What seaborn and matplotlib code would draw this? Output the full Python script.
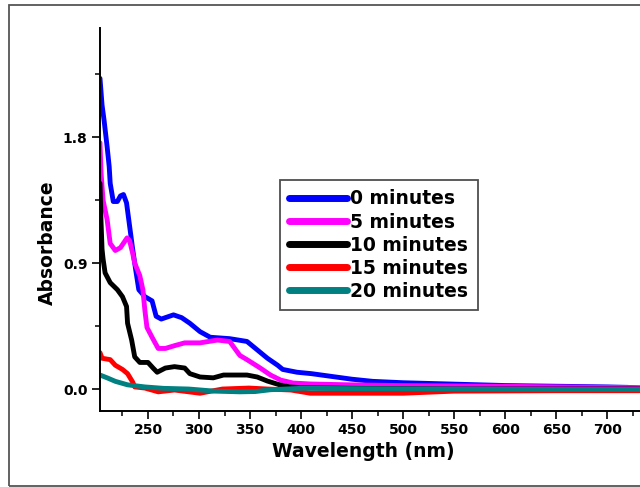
import numpy as np
import pandas as pd
import matplotlib
matplotlib.use("Agg")
import matplotlib.pyplot as plt
from matplotlib.patches import Rectangle
from matplotlib.ticker import MultipleLocator
import seaborn as sns

# ---- data ----
wl_0 = [203, 205, 207, 210, 212, 213, 216, 220, 223, 226, 229, 231, 235, 238, 241, 247, 254, 258, 263, 275,
        283, 291, 301, 311, 330, 347, 357, 367, 377, 382, 396, 410, 430, 450, 470, 500, 550, 600, 650, 700, 720, 733]
abs_0 = [2.22, 2.03, 1.92, 1.73, 1.59, 1.47, 1.34, 1.34, 1.38, 1.39, 1.33, 1.22, 1.00, 0.85, 0.71, 0.66, 0.63, 0.52, 0.50, 0.53,
         0.51, 0.47, 0.41, 0.37, 0.36, 0.34, 0.28, 0.22, 0.17, 0.14, 0.12, 0.11, 0.09, 0.07, 0.055, 0.045, 0.035, 0.025, 0.02, 0.015, 0.012, 0.005]

wl_5 = [203, 204, 206, 210, 213, 218, 223, 229.5, 232, 235, 237, 242, 245, 247, 249, 254, 257, 260, 267, 276,
        286, 301, 318, 330, 335, 340, 347, 360, 370, 380, 392, 409, 448, 497, 595, 693, 733]
abs_5 = [1.76, 1.55, 1.35, 1.21, 1.04, 0.99, 1.01, 1.08, 1.06, 0.97, 0.90, 0.81, 0.71, 0.56, 0.44, 0.37, 0.33, 0.29, 0.29, 0.31,
         0.33, 0.33, 0.35, 0.34, 0.29, 0.24, 0.21, 0.15, 0.10, 0.064, 0.043, 0.036, 0.03, 0.025, 0.02, 0.012, 0.01]

wl_10 = [203, 204, 205, 206, 208, 213, 220, 225, 229, 230, 234, 237, 242, 250, 255, 259, 267, 276, 286, 291,
         301, 314, 324, 347, 357, 367, 379, 389, 400, 450, 550, 650, 733]
abs_10 = [1.47, 1.20, 1.00, 0.93, 0.83, 0.76, 0.71, 0.66, 0.59, 0.47, 0.35, 0.23, 0.19, 0.19, 0.15, 0.12, 0.15, 0.16, 0.15, 0.11,
          0.086, 0.08, 0.10, 0.10, 0.086, 0.057, 0.03, 0.015, 0.01, 0.005, 0.0, 0.0, 0.0]

wl_15 = [203, 205, 213, 218, 225, 230, 235, 237, 247, 260, 276, 290, 301, 323, 349, 367, 390, 409, 450, 500, 550, 650, 733]
abs_15 = [0.26, 0.22, 0.21, 0.17, 0.14, 0.11, 0.05, 0.015, 0.007, -0.02, -0.007, -0.02, -0.03, 0.0, 0.007, 0.0, -0.007, -0.03, -0.03, -0.03, -0.015, -0.012, -0.012]

wl_20 = [203, 210, 218, 230, 247, 265, 290, 315, 340, 355, 370, 400, 450, 550, 650, 733]
abs_20 = [0.10, 0.08, 0.055, 0.03, 0.015, 0.005, 0.0, -0.015, -0.02, -0.018, -0.005, 0.005, 0.003, 0.0, -0.003, -0.003]

labels = ["0 minutes", "5 minutes", "10 minutes", "15 minutes", "20 minutes"]
colors = ["#0000FF", "#FF00FF", "#000000", "#FF0000", "#008080"]
x_ticks = [250, 300, 350, 400, 450, 500, 550, 600, 650, 700]
y_ticks = [0.0, 0.9, 1.8]
y_ticklabels = ["0.0", "0.9", "1.8"]

frames = []
for lab, w, a in zip(labels, [wl_0, wl_5, wl_10, wl_15, wl_20], [abs_0, abs_5, abs_10, abs_15, abs_20]):
    frames.append(pd.DataFrame({"Wavelength": w, "Absorbance": a, "Time": lab}))
df = pd.concat(frames, ignore_index=True)

sns.set_style("white")
plt.rcParams["font.family"] = ["DejaVu Sans"]
plt.rcParams["font.weight"] = "bold"
plt.rcParams["text.color"] = "black"
plt.rcParams["axes.labelcolor"] = "black"
plt.rcParams["xtick.color"] = "black"
plt.rcParams["ytick.color"] = "black"

fig = plt.figure(figsize=(6.4, 4.87), dpi=100)
ax = fig.add_axes([100 / 640, 1 - 411 / 487, 1 - 100 / 640, (411 - 28) / 487])

sns.lineplot(data=df, x="Wavelength", y="Absorbance", hue="Time", hue_order=labels,
             palette=dict(zip(labels, colors)), estimator=None, sort=False,
             linewidth=3.5, ax=ax, legend=True)

ax.set_xlim(203, 732)
ax.set_ylim(-0.157, 2.58)

ax.xaxis.set_minor_locator(MultipleLocator(25))
ax.set_xticks(x_ticks)
ax.set_xticklabels([str(v) for v in x_ticks])
ax.yaxis.set_minor_locator(MultipleLocator(0.45))
ax.set_yticks(y_ticks)
ax.set_yticklabels(y_ticklabels)

for s in ["top", "right"]:
    ax.spines[s].set_visible(False)
for s in ["left", "bottom"]:
    ax.spines[s].set_linewidth(1.4)
    ax.spines[s].set_color("black")

ax.tick_params(axis="both", which="major", direction="out", length=6, width=1.2,
               labelsize=10, pad=3, color="black", labelcolor="black", left=True, bottom=True)
ax.tick_params(axis="both", which="minor", direction="out", length=3.5, width=1.1,
               color="black", left=True, bottom=True)
for t in ax.get_xticklabels() + ax.get_yticklabels():
    t.set_fontweight("bold")

ax.set_xlabel("Wavelength (nm)", fontsize=13.5, fontweight="bold", color="black")
ax.set_ylabel("Absorbance", fontsize=13.5, fontweight="bold", color="black")
ax.xaxis.set_label_coords(0.487, -0.082)
ax.yaxis.set_label_coords(-0.08, 0.44)

handles, _ = ax.get_legend_handles_labels()
leg = ax.legend(handles=handles, labels=labels, loc="upper left",
                bbox_to_anchor=(0.333, 0.603), borderaxespad=0, frameon=True,
                fancybox=False, shadow=False, handlelength=3.1, handletextpad=0.15,
                labelspacing=0.22, borderpad=0.5,
                prop={"size": 13.5, "weight": "bold"})
leg.get_frame().set_edgecolor("#222222")
leg.get_frame().set_linewidth(1.3)
for txt in leg.get_texts():
    txt.set_color("black")
for h in leg.get_lines():
    h.set_linewidth(5)

# outer grey frame
fig.add_artist(Rectangle((9 / 640, 1 - 486 / 487), 1.0, (486 - 5) / 487,
                         transform=fig.transFigure, fill=False,
                         edgecolor="#555555", linewidth=1.3))

fig.savefig("out.png", dpi=100)
